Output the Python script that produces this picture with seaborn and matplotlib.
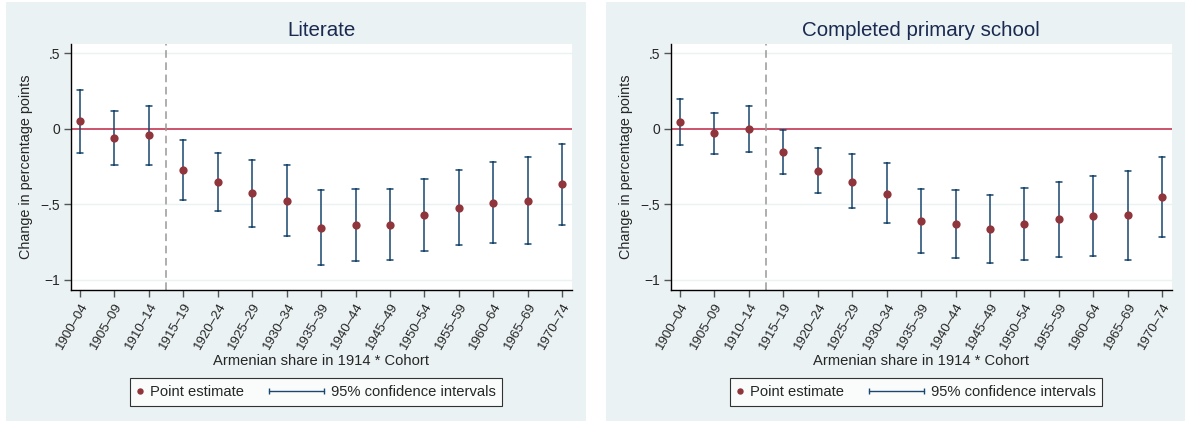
import seaborn as sns
import matplotlib.pyplot as plt
import pandas as pd
import numpy as np
from matplotlib.patches import Rectangle
from matplotlib.lines import Line2D
from matplotlib.legend_handler import HandlerLine2D

# Cohorts on the x axis
cohorts = ["1900–04", "1905–09", "1910–14", "1915–19", "1920–24", "1925–29",
           "1930–34", "1935–39", "1940–44", "1945–49", "1950–54", "1955–59",
           "1960–64", "1965–69", "1970–74"]

# Literate: point estimate and 95% CI bounds
lit_est = [0.049, -0.060, -0.042, -0.276, -0.353, -0.428, -0.479, -0.655,
           -0.638, -0.636, -0.571, -0.521, -0.488, -0.475, -0.368]
lit_lo = [-0.161, -0.238, -0.238, -0.472, -0.543, -0.649, -0.709, -0.900,
          -0.874, -0.870, -0.810, -0.770, -0.755, -0.762, -0.636]
lit_hi = [0.256, 0.120, 0.152, -0.073, -0.163, -0.205, -0.243, -0.408,
          -0.401, -0.401, -0.331, -0.273, -0.223, -0.190, -0.099]

# Completed primary school
prim_est = [0.044, -0.030, -0.002, -0.156, -0.280, -0.351, -0.429, -0.611,
            -0.633, -0.662, -0.631, -0.600, -0.576, -0.572, -0.450]
prim_lo = [-0.110, -0.165, -0.152, -0.298, -0.428, -0.525, -0.625, -0.823,
           -0.856, -0.889, -0.870, -0.848, -0.839, -0.865, -0.713]
prim_hi = [0.197, 0.106, 0.148, -0.011, -0.130, -0.170, -0.230, -0.401,
           -0.406, -0.437, -0.393, -0.353, -0.313, -0.278, -0.187]

titles = ["Literate", "Completed primary school"]
yticks = [0.5, 0, -0.5, -1]
ytick_labels = [".5", "0", "\u2212.5", "\u22121"]

bg = "#EAF2F3"
navy = "#1A476F"
maroon = "#90353B"
zero_red = "#C8455F"


class SizedHandler(HandlerLine2D):
    # legend handle with its own width (points)
    def __init__(self, w, **kw):
        super().__init__(**kw)
        self.w = w

    def legend_artist(self, legend, orig_handle, fontsize, handlebox):
        handlebox.width = self.w
        return super().legend_artist(legend, orig_handle, fontsize, handlebox)


sns.set_style("white")
plt.rcParams["font.family"] = ["Liberation Sans", "DejaVu Sans"]

fig = plt.figure(figsize=(11.85, 4.23), dpi=100)
W, H = 1185, 423

# panel backgrounds
for x0 in [6, 606]:
    fig.patches.append(Rectangle((x0 / W, 2 / H), 580 / W, 419 / H,
                                 transform=fig.transFigure, facecolor=bg,
                                 edgecolor="none", zorder=-10))

panels = [(lit_est, lit_lo, lit_hi), (prim_est, prim_lo, prim_hi)]

for i, (est, lo, hi) in enumerate(panels):
    left = (71 + 600 * i) / W
    ax = fig.add_axes([left, 1 - 289.5 / H, 500.5 / W, 245.5 / H])
    ax.set_zorder(1)
    ax.set_facecolor("white")

    # long table: three rows per cohort, median = estimate, min/max = CI
    df = pd.DataFrame({
        "cohort": cohorts * 3,
        "value": list(est) + list(lo) + list(hi),
    })
    sns.pointplot(data=df, x="cohort", y="value", order=cohorts,
                  estimator="median",
                  errorbar=lambda v: (v.min(), v.max()),
                  color=maroon, marker="o", markersize=3.9, linestyle="none",
                  capsize=0.18,
                  err_kws={"color": navy, "linewidth": 1.1, "zorder": 2},
                  ax=ax, zorder=3)

    ax.axhline(0, color=zero_red, linewidth=1.3, zorder=1)
    ax.axvline(2.5, color="#999999", linewidth=1.1, linestyle=(0, (5, 3)), zorder=1)
    for g in [0.5, -0.5, -1]:
        ax.axhline(g, color=bg, linewidth=1.0, zorder=0)

    ax.set_xlim(-0.26, 14.27)
    ax.set_ylim(-1.063, 0.56)
    ax.set_yticks(yticks)
    ax.set_yticklabels(ytick_labels, fontsize=10)
    ax.set_xticks(range(len(cohorts)))
    ax.set_xticklabels(cohorts, rotation=60, ha="right", rotation_mode="anchor",
                       fontsize=9.5)
    ax.tick_params(axis="both", direction="out", length=5, width=1,
                   color="#555555", pad=3, left=True, bottom=True)

    for s in ["top", "right"]:
        ax.spines[s].set_visible(False)
    for s in ["left", "bottom"]:
        ax.spines[s].set_color("black")
        ax.spines[s].set_linewidth(1.0)

    ax.set_xlabel("Armenian share in 1914 * Cohort", fontsize=10.6, labelpad=2)
    ax.set_ylabel("Change in percentage points", fontsize=10.4, labelpad=5)

    ax.set_title(titles[i], fontsize=14.8, color="#1A2A50", pad=6)

    h1 = Line2D([], [], color=maroon, marker="o", markersize=3.6, linestyle="none")
    h2 = Line2D([], [], color=navy, marker="|", markersize=5, linewidth=1.0)
    leg = ax.legend([h1, h2], ["Point estimate", "95% confidence intervals"],
                    handler_map={h1: SizedHandler(5, numpoints=1),
                                 h2: SizedHandler(40, numpoints=2, marker_pad=0)},
                    loc="center", bbox_to_anchor=((316 - 71) / 500.5,
                                                  (289.5 - 392) / 245.5),
                    ncol=2, fontsize=10.6, frameon=True, fancybox=False,
                    edgecolor="black", columnspacing=1.7,
                    borderpad=0.45, handletextpad=0.45)
    leg.get_frame().set_linewidth(0.8)

fig.savefig("out.png", dpi=100)
